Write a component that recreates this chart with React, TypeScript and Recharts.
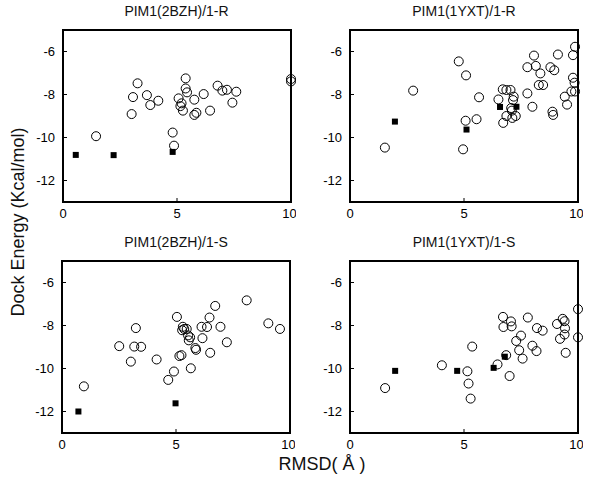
import React from 'react';
import { ScatterChart, Scatter, XAxis, YAxis, ReferenceArea } from 'recharts';

// RMSD (Å) vs dock energy (kcal/mol), four docking runs
const titles = ['PIM1(2BZH)/1-R', 'PIM1(1YXT)/1-R', 'PIM1(2BZH)/1-S', 'PIM1(1YXT)/1-S'];
const xTicks = [0, 5, 10];
const yTicks = [-12, -10, -8, -6];

const circles2bzhR = [
  [1.45, -9.94], [3.01, -8.91], [3.07, -8.12], [3.27, -7.48], [3.68, -8.03], [3.83, -8.49],
  [4.18, -8.29], [4.81, -9.77], [4.87, -10.38], [5.07, -8.18], [5.15, -8.54], [5.2, -8.41],
  [5.26, -8.75], [5.38, -7.25], [5.38, -7.72], [5.44, -7.9], [5.76, -8.95], [5.76, -8.24],
  [5.85, -8.85], [6.17, -7.98], [6.45, -8.75], [6.78, -7.59], [6.99, -7.82], [7.19, -7.78],
  [7.43, -8.38], [7.6, -7.87], [10, -7.28], [10, -7.39],
];
const squares2bzhR = [[0.56, -10.81], [2.22, -10.82], [4.81, -10.67]];

const circles1yxtR = [
  [1.53, -10.47], [2.77, -7.82], [4.77, -6.46], [4.96, -10.55], [5.07, -9.22], [5.09, -7.11],
  [5.55, -9.15], [5.66, -8.13], [6.51, -8.23], [6.7, -7.76], [6.72, -9.32], [6.86, -9.0],
  [6.86, -7.79], [7.04, -7.79], [7.07, -8.63], [7.15, -8.26], [7.18, -8.1], [7.12, -9.09],
  [7.27, -9.0], [7.1, -8.75], [7.78, -6.73], [7.78, -7.95], [8.0, -8.57], [8.07, -6.19],
  [8.15, -6.67], [8.28, -7.56], [8.35, -7.02], [8.47, -7.56], [8.79, -6.73], [8.88, -8.8],
  [8.91, -8.95], [8.96, -6.87], [9.12, -6.14], [9.42, -8.1], [9.52, -8.47], [9.71, -7.86],
  [9.78, -6.17], [9.78, -7.22], [9.85, -7.45], [9.87, -5.78], [9.87, -7.86],
];
const squares1yxtR = [[1.97, -9.26], [5.11, -9.63], [6.58, -8.58], [7.3, -8.57]];

const circles2bzhS = [
  [0.96, -10.83], [2.51, -8.96], [3.02, -9.68], [3.17, -8.98], [3.24, -8.12], [3.47, -8.99],
  [4.15, -9.58], [4.66, -10.53], [4.91, -10.14], [5.04, -7.6], [5.15, -9.42], [5.24, -9.38],
  [5.3, -8.06], [5.27, -8.22], [5.36, -8.16], [5.47, -8.16], [5.53, -8.46], [5.56, -8.69],
  [5.62, -8.55], [5.65, -9.99], [5.85, -9.05], [5.88, -9.13], [6.12, -8.06], [6.16, -8.59],
  [6.36, -8.07], [6.47, -7.63], [6.5, -9.27], [6.72, -7.09], [6.95, -8.06], [7.23, -8.78],
  [8.1, -6.83], [9.05, -7.9], [9.56, -8.16],
];
const squares2bzhS = [[0.72, -12.0], [4.98, -11.62]];

const circles1yxtS = [
  [1.54, -10.91], [4.03, -9.85], [5.15, -10.13], [5.2, -10.7], [5.29, -11.4], [5.36, -8.98],
  [6.47, -9.81], [6.71, -7.6], [6.73, -8.07], [6.85, -9.38], [7.0, -10.35], [7.06, -7.81],
  [7.09, -8.04], [7.29, -8.72], [7.42, -9.15], [7.5, -8.47], [7.57, -9.54], [7.8, -7.63],
  [8.0, -8.94], [8.18, -9.19], [8.2, -8.12], [8.45, -8.24], [9.08, -7.93], [9.21, -8.62],
  [9.33, -7.69], [9.41, -7.8], [9.43, -8.13], [9.41, -8.42], [9.46, -9.27], [10.0, -7.24],
  [10.0, -8.55],
];
const squares1yxtS = [[1.98, -10.11], [4.7, -10.11], [6.3, -9.97], [6.79, -9.45]];

const toPoints = (arr: number[][]) => arr.map(([x, y]) => ({ x, y }));

const FONT = '"Liberation Sans", Arial, sans-serif';

const OpenCircle = (props: any) => (
  <circle cx={props.cx} cy={props.cy} r={4.5} fill="none" stroke="#000" strokeWidth={1} />
);
const FilledSquare = (props: any) => (
  <rect x={props.cx - 3} y={props.cy - 3} width={6} height={6} fill="#000" />
);

const tickStyle = { fontSize: 13, fill: '#000', fontFamily: FONT };

function Panel({ title, circles, squares, left, top }: any) {
  return (
    <div style={{ position: 'absolute', left: left - 40, top: top - 5 }}>
      <div
        style={{
          position: 'absolute',
          left: 40,
          width: 228,
          top: -22,
          textAlign: 'center',
          fontFamily: FONT,
          fontSize: 14,
          color: '#111',
        }}
      >
        {title}
      </div>
      <ScatterChart width={273} height={202} margin={{ top: 5, right: 5, left: 0, bottom: 0 }}>
        <XAxis
          type="number"
          dataKey="x"
          domain={[0, 10]}
          ticks={xTicks}
          height={25}
          stroke="#000"
          axisLine={false}
          tickSize={-4}
          tickMargin={11}
          tick={tickStyle}
        />
        <YAxis
          type="number"
          dataKey="y"
          domain={[-13, -5]}
          ticks={yTicks}
          width={40}
          stroke="#000"
          axisLine={false}
          tickSize={-4}
          tickMargin={12}
          tick={tickStyle}
        />
        <ReferenceArea
          x1={0}
          x2={10}
          y1={-13}
          y2={-5}
          fill="none"
          fillOpacity={0}
          stroke="#000"
          strokeWidth={2}
          strokeOpacity={1}
          ifOverflow="visible"
        />
        <Scatter data={toPoints(circles)} shape={<OpenCircle />} isAnimationActive={false} />
        <Scatter data={toPoints(squares)} shape={<FilledSquare />} isAnimationActive={false} />
      </ScatterChart>
    </div>
  );
}

export default function App() {
  return (
    <div style={{ position: 'absolute', left: 0, top: 0, width: 600, height: 495, background: '#fff' }}>
      <Panel title={titles[0]} circles={circles2bzhR} squares={squares2bzhR} left={62.5} top={30} />
      <Panel title={titles[1]} circles={circles1yxtR} squares={squares1yxtR} left={350} top={30} />
      <Panel title={titles[2]} circles={circles2bzhS} squares={squares2bzhS} left={62} top={261} />
      <Panel title={titles[3]} circles={circles1yxtS} squares={squares1yxtS} left={350} top={261} />
      <div
        style={{
          position: 'absolute',
          left: 18,
          top: 222,
          transform: 'translate(-50%, -50%) rotate(-90deg)',
          whiteSpace: 'nowrap',
          fontFamily: FONT,
          fontSize: 18,
          color: '#111',
        }}
      >
        Dock Energy (Kcal/mol)
      </div>
      <div
        style={{
          position: 'absolute',
          left: 322,
          top: 464,
          transform: 'translate(-50%, -50%)',
          whiteSpace: 'nowrap',
          fontFamily: FONT,
          fontSize: 18,
          color: '#111',
        }}
      >
        RMSD( Å )
      </div>
    </div>
  );
}
